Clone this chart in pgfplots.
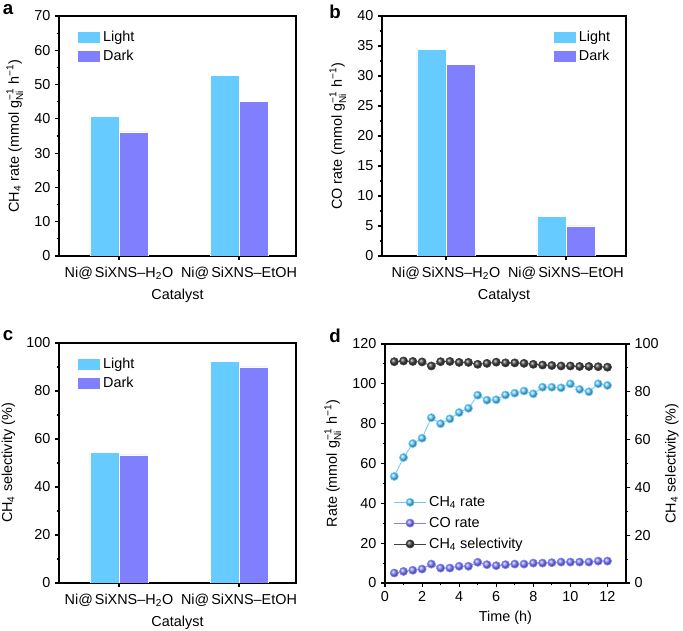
\documentclass[border=0pt]{standalone}
\usepackage{fontspec}
\setmainfont{Liberation Sans}
\usepackage{amsmath}
\usepackage{pgfplots}
\pgfplotsset{compat=1.18}
\usetikzlibrary{plotmarks}
\definecolor{lightc}{HTML}{66CCFF}
\definecolor{darkc}{HTML}{8080FF}
\definecolor{selc}{HTML}{404040}
\newcommand{\gNi}{g$^{\text{−1}}_{\text{Ni}}$}
\newcommand{\hm}{h$^{\text{−1}}$}
\pgfplotsset{
  every axis/.append style={
    scale only axis,
    axis line style={line width=0.8pt},
    every tick/.style={line width=0.8pt, black},
    tick align=outside,
    major tick length=3pt,
    minor tick length=1.8pt,
    xtick pos=bottom, ytick pos=left,
    /pgf/number format/assume math mode=true,
    ymin=0,
    ylabel shift=1.5pt,
  },
  barax/.style={
    ybar=0pt, bar width=21.75pt,
    xtick={0,1},
    xticklabels={Ni@\kern1.5pt SiXNS–H\textsubscript{2}O, Ni@\kern1.5pt SiXNS–EtOH},
    xticklabel style={yshift=-2pt},
    xlabel={Catalyst},
    minor y tick num=1,
    legend cell align=left,
    legend image code/.code={\fill[##1] (0pt,-4.5pt) rectangle (17pt,4.5pt);},
    legend style={draw=none, fill=none, row sep=1pt, inner sep=0pt, anchor=north west},
  },
  timeleg/.style={
    legend image code/.code={\draw[##1,mark=none] (0pt,0pt) -- (24pt,0pt); \draw[##1, only marks] plot coordinates {(12pt,0pt)};},
  },
}
\begin{document}
\begin{tikzpicture}[font=\fontsize{10.8}{13}\selectfont]
\path[use as bounding box] (0pt,0pt) rectangle (512.25pt,473.25pt);
\node[font=\fontsize{14}{16}\selectfont\bfseries] at (6pt,465.75pt) {a};
\node[font=\fontsize{14}{16}\selectfont\bfseries] at (251.25pt,464.25pt) {b};
\node[font=\fontsize{14}{16}\selectfont\bfseries] at (6pt,221.25pt) {c};
\node[font=\fontsize{14}{16}\selectfont\bfseries] at (251.25pt,221.25pt) {d};
% panel a
\begin{axis}[barax, at={(44.25pt,281.25pt)}, anchor=south west,
  width=177.75pt, height=180pt,
  xmin=-0.5, xmax=1.475, ymax=70, ytick={0,10,...,70},
  ylabel={CH\textsubscript{4} rate (mmol \gNi{} \hm)},
  legend style={at={(0.076,0.948)}}]
\addplot[fill=lightc, draw=white, line width=0.4pt] coordinates {(0,40.8) (1,52.7)};
\addplot[fill=darkc, draw=white, line width=0.4pt] coordinates {(0,36.2) (1,45.1)};
\legend{Light, Dark}
\end{axis}
% panel b
\begin{axis}[barax, at={(286.5pt,281.25pt)}, anchor=south west,
  width=183pt, height=180pt,
  xmin=-0.533, xmax=1.5, ymax=40, ytick={0,5,...,40},
  ylabel={CO rate (mmol \gNi{} \hm)},
  legend style={at={(0.70,0.948)}}]
\addplot[fill=lightc, draw=white, line width=0.4pt] coordinates {(0,34.45) (1,6.55)};
\addplot[fill=darkc, draw=white, line width=0.4pt] coordinates {(0,31.9) (1,5.0)};
\legend{Light, Dark}
\end{axis}
% panel c
\begin{axis}[barax, at={(44.25pt,36pt)}, anchor=south west,
  width=177.75pt, height=180pt,
  xmin=-0.5, xmax=1.475, ymax=100, ytick={0,20,...,100},
  ylabel={CH\textsubscript{4} selectivity (\%)},
  legend style={at={(0.076,0.948)}}]
\addplot[fill=lightc, draw=white, line width=0.4pt] coordinates {(0,54.4) (1,92.2)};
\addplot[fill=darkc, draw=white, line width=0.4pt] coordinates {(0,53.4) (1,90.0)};
\legend{Light, Dark}
\end{axis}
% panel d
\begin{axis}[timeleg, at={(288.75pt,36pt)}, anchor=south west,
  width=180.75pt, height=179.25pt,
  xmin=0, xmax=13, xtick={0,2,...,12}, minor x tick num=1,
  ymax=120, ytick={0,20,...,120}, minor y tick num=1,
  xlabel={Time (h)},
  ylabel={Rate (mmol \gNi{} \hm)},
  legend cell align=left,
  legend style={draw=none, fill=none, row sep=2.5pt, inner sep=0pt, at={(0.035,0.375)}, anchor=north west}]
\addplot[color=lightc, line width=0.6pt, mark=ball, mark size=3pt, mark options={ball color=lightc}] coordinates {
(0.5,53.5) (1,63) (1.5,70) (2,72.7) (2.5,83) (3,80) (3.5,82.4) (4,85.6)
(4.5,87.7) (5,94.3) (5.5,91.8) (6,92) (6.5,94.4) (7,95.3) (7.5,96.4) (8,95)
(8.5,98.3) (9,98.3) (9.5,98) (10,100) (10.5,97.2) (11,96) (11.5,100) (12,99.2)};
\addplot[color=darkc, line width=0.6pt, mark=ball, mark size=3pt, mark options={ball color=darkc}] coordinates {
(0.5,5) (1,5.8) (1.5,6.4) (2,7) (2.5,9.5) (3,7.5) (3.5,7.5) (4,8.4)
(4.5,8.4) (5,10.4) (5.5,9.2) (6,8.7) (6.5,9.2) (7,9.5) (7.5,9.5) (8,10)
(8.5,10) (9,10.2) (9.5,10.5) (10,10.5) (10.5,10.5) (11,10.5) (11.5,11) (12,11)};
\addlegendimage{color=selc, line width=0.6pt, mark=ball, mark size=3pt, mark options={ball color=selc}}
\legend{CH\textsubscript{4} rate, CO rate, CH\textsubscript{4} selectivity}
\end{axis}
\begin{axis}[at={(288.75pt,36pt)}, anchor=south west,
  width=180.75pt, height=179.25pt,
  xmin=0, xmax=13, axis x line=none,
  axis y line*=right, ytick pos=right, ylabel shift=-2pt,
  ymax=100, ytick={0,20,...,100}, minor y tick num=1,
  ylabel={CH\textsubscript{4} selectivity (\%)}]
\addplot[color=selc, line width=0.6pt, mark=ball, mark size=3pt, mark options={ball color=selc}] coordinates {
(0.5,92.6) (1,92.9) (1.5,92.7) (2,92.5) (2.5,90.8) (3,92.6) (3.5,92.7) (4,92.3)
(4.5,92.3) (5,91.5) (5.5,91.9) (6,92.4) (6.5,92.1) (7,92.1) (7.5,91.9) (8,91.5)
(8.5,91.2) (9,91) (9.5,90.8) (10,90.8) (10.5,90.6) (11,90.6) (11.5,90.5) (12,90.3)};
\end{axis}
\end{tikzpicture}
\end{document}
